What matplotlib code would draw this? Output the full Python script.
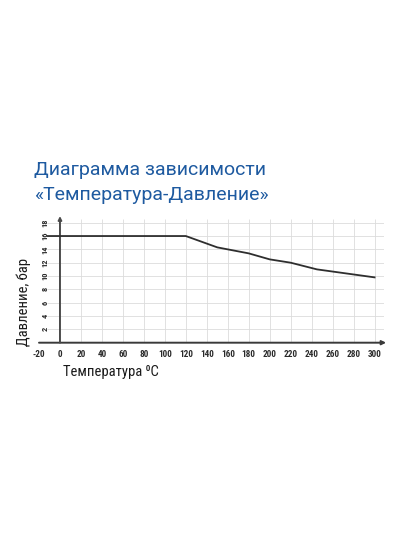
import matplotlib.pyplot as plt
from matplotlib import font_manager

# Pressure vs temperature curve
temp_c = [-12, 0, 120, 150, 180, 200, 220, 245, 300]
pressure_bar = [16, 16, 16, 14.3, 13.4, 12.5, 12.0, 11.0, 9.8]

x_ticks = list(range(-20, 301, 20))
y_ticks = list(range(2, 19, 2))

TITLE_1 = "Диаграмма зависимости"
TITLE_2 = "«Температура-Давление»"
XLABEL = "Температура ⁰С"
YLABEL = "Давление, бар"

W, H = 400, 534


def pick_narrow():
    for name in ["Liberation Sans Narrow", "Roboto Condensed", "Open Sans Condensed"]:
        try:
            font_manager.findfont(font_manager.FontProperties(family=name),
                                  fallback_to_default=False)
            return name
        except Exception:
            pass
    return None


NARROW = pick_narrow()
FONT = "Roboto"
LABEL_FONT = NARROW or FONT
plt.rcParams['font.family'] = [FONT, 'DejaVu Sans']

fig = plt.figure(figsize=(W / 100, H / 100), dpi=100)

# axes box in pixels: data x -20..309 -> px 39..384, y 0..18.6 -> px 342.7..218.7
x0, x1 = 39, 384
y_bot, y_top = 342.7, 218.7
ax = fig.add_axes([x0 / W, (H - y_bot) / H, (x1 - x0) / W, (y_bot - y_top) / H])
ax.set_xlim(-20, 309)
ax.set_ylim(0, 18.6)
for s in ax.spines.values():
    s.set_visible(False)

grid_c = '#dcdcdc'
ax.hlines(y_ticks, -12, 309, color=grid_c, lw=0.6, zorder=1)
ax.vlines([t for t in x_ticks if t > 0] + [309], 0, 18.6, color=grid_c, lw=0.6, zorder=1)

# axes with arrows
ax.annotate('', xy=(311, 0), xytext=(-20, 0), annotation_clip=False,
            arrowprops=dict(arrowstyle='-|>', color='#3a3a3a', lw=1.4,
                            mutation_scale=6, shrinkA=0, shrinkB=0), zorder=3)
ax.annotate('', xy=(0, 19.0), xytext=(0, 0), annotation_clip=False,
            arrowprops=dict(arrowstyle='-|>', color='#4a4a4a', lw=1.4,
                            mutation_scale=5, shrinkA=0, shrinkB=0), zorder=3)

ax.plot(temp_c, pressure_bar, color='#2e2e2e', lw=1.3, zorder=4)

ax.set_xticks(x_ticks)
ax.set_xticklabels([str(t) for t in x_ticks], fontsize=6.6, color='#2a2a2a',
                   family=[LABEL_FONT, 'DejaVu Sans'], fontweight='bold')
ax.set_yticks(y_ticks)
ax.set_yticklabels([str(t) for t in y_ticks], fontsize=6.0, color='#2a2a2a',
                   family=[LABEL_FONT, 'DejaVu Sans'],
                   rotation=90, va='center', fontweight='bold')
ax.tick_params(axis='x', length=0, pad=5)
ax.tick_params(axis='y', length=0, pad=-7)

fig.text(63 / W, 1 - 376 / H, XLABEL, fontsize=10.5, color='#1a1a1a',
         family=[LABEL_FONT, 'DejaVu Sans'], ha='left', va='baseline')
fig.text(24 / W, 1 - 302 / H, YLABEL, fontsize=10.5, color='#1a1a1a',
         family=[LABEL_FONT, 'DejaVu Sans'],
         rotation=90, ha='center', va='center')

fig.text(34 / W, 1 - 174.5 / H, TITLE_1, fontsize=14, color='#1e5aa0',
         ha='left', va='baseline')
fig.text(34 / W, 1 - 200.5 / H, TITLE_2, fontsize=14, color='#1e5aa0',
         ha='left', va='baseline')

fig.savefig('out.png', dpi=100)
